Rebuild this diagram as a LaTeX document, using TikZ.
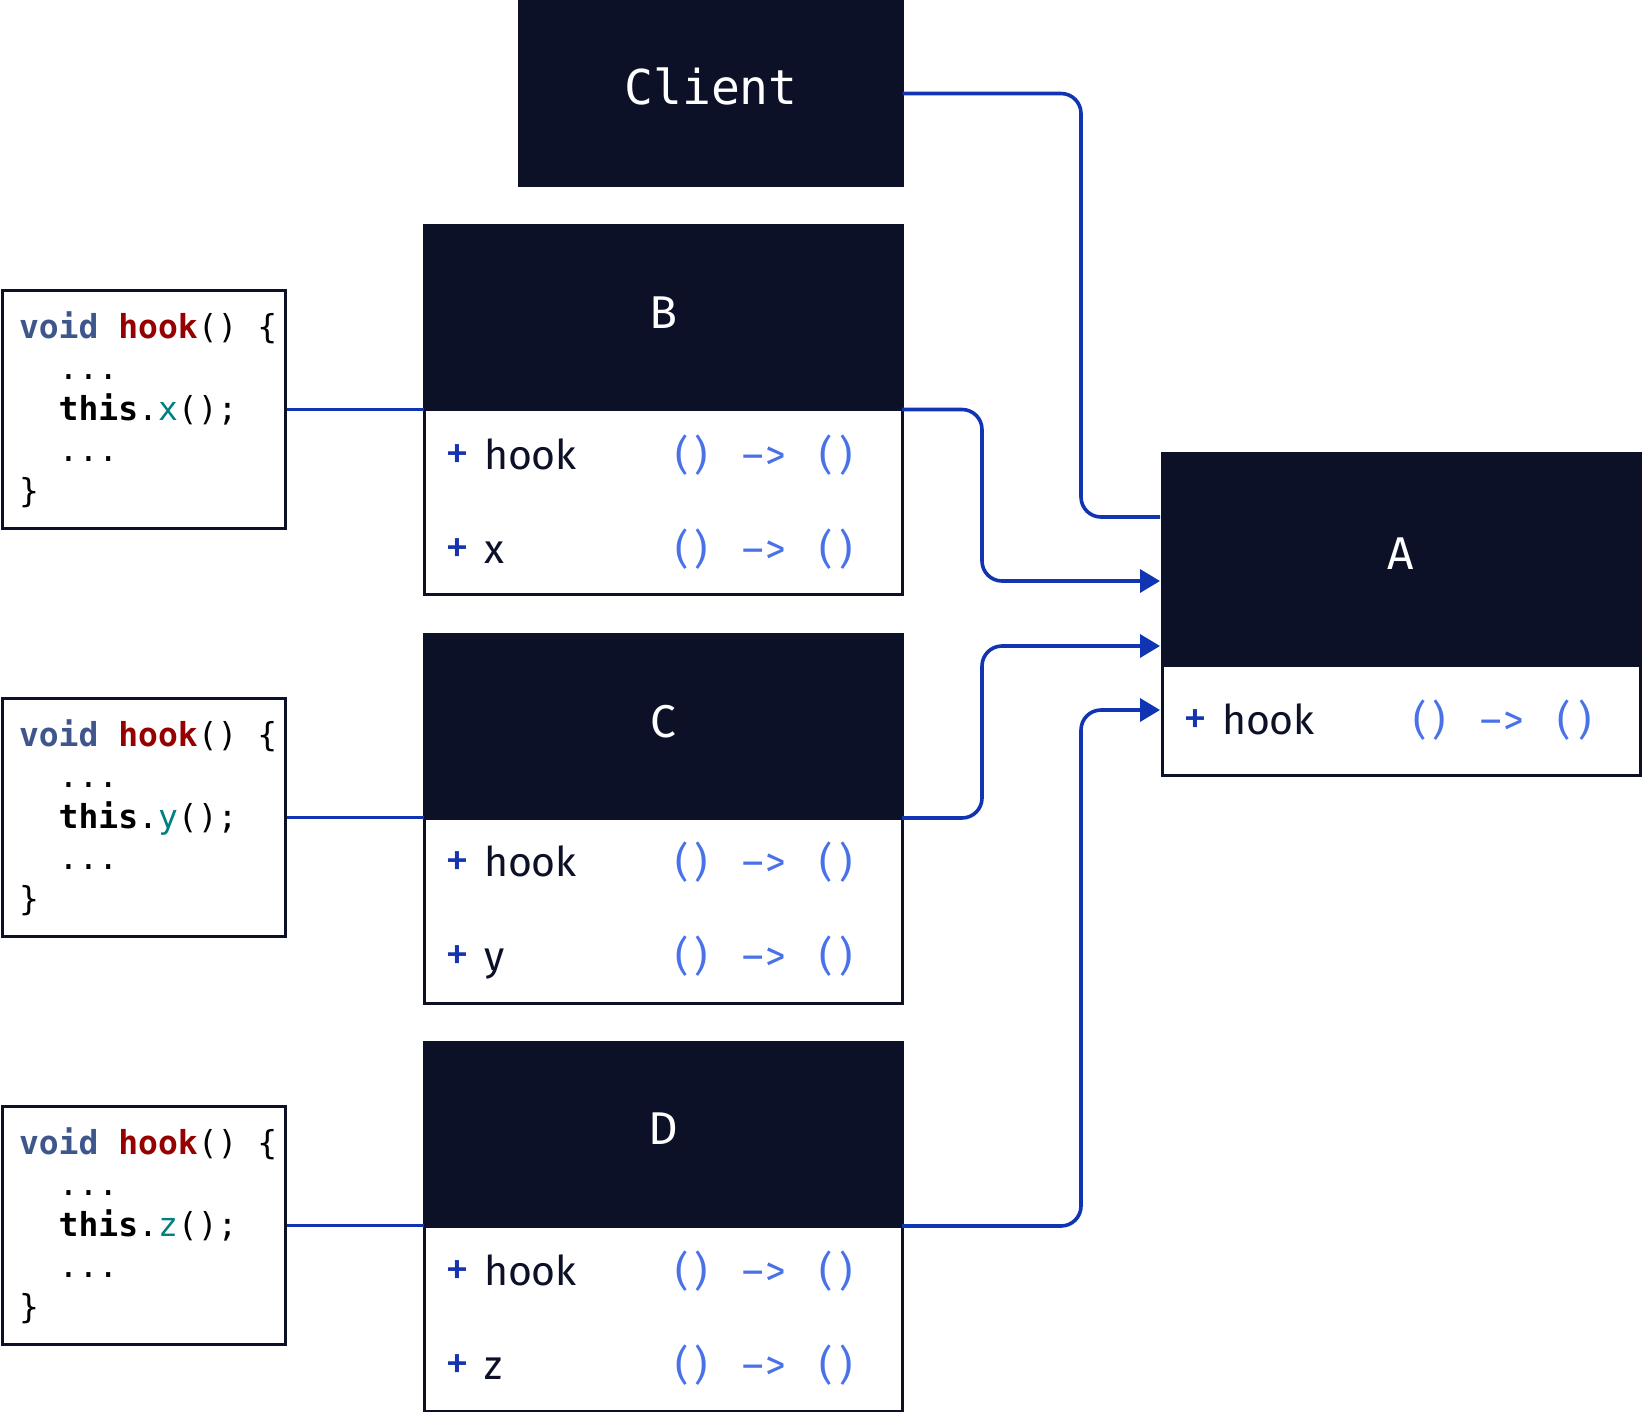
\documentclass[tikz,border=0pt]{standalone}
\usepackage{xcolor}
\usepackage{tikz}
\usepackage{fontspec}
\setmainfont{Fira Sans}
\setmonofont{DejaVu Sans Mono}
\usetikzlibrary{arrows.meta}
\usetikzlibrary{positioning}

\definecolor{navy}{RGB}{12,17,40}
\definecolor{linkblue}{RGB}{16,52,178}
\definecolor{plusblue}{RGB}{22,52,176}
\definecolor{sigblue}{RGB}{74,114,232}
\definecolor{voidblue}{RGB}{62,86,140}
\definecolor{hookred}{RGB}{150,0,0}
\definecolor{callteal}{RGB}{0,128,128}

% signature "( ) -> ( )" and one class member row
\newcommand{\sig}{\textcolor{sigblue}{\makebox[10pt][l]{(}\makebox[23.5pt][l]{)}\makebox[11.5pt][l]{\textendash}\makebox[27pt][l]{>}\makebox[10.5pt][l]{(})}}
\newcommand{\member}[1]{\makebox[19.5pt][l]{\textcolor{plusblue}{\fontsize{24}{47}\selectfont +}}\makebox[95.5pt][l]{#1}\sig}
% body of hook() calling one method
\newcommand{\hookcode}[1]{\textcolor{voidblue}{\textbf{void}}\phantom{x}\textcolor{hookred}{\textbf{hook}}()\phantom{x}\{\\
\phantom{xx}...\\
\phantom{xx}\textbf{this}.\textcolor{callteal}{#1}();\\
\phantom{xx}...\\
\}}

\begin{document}
\begin{tikzpicture}[
        x=0.5pt, y=-0.5pt,
        head/.style={fill=navy, draw=navy, line width=1.5pt, outer sep=0pt, text=white, inner sep=0pt, text depth=5pt, minimum width=239pt, font=\fontsize{23}{28}\selectfont},
        body/.style={fill=white, draw=navy, line width=1.5pt, outer sep=0pt, minimum width=239pt, text width=218pt, inner xsep=10.5pt, align=left, text=navy, font=\fontsize{20.5}{47}\selectfont},
        codebox/.style={draw=navy, line width=1.5pt, minimum width=141.5pt, minimum height=119pt, text width=124.5pt, inner xsep=8.5pt, align=left, font=\fontsize{16.5}{20.5}\selectfont\ttfamily},
        link/.style={draw=linkblue, line width=1.8pt, rounded corners=10pt},
        arrow/.style={link, -{Triangle[length=10pt,width=11.5pt]}}
    ]
        \useasboundingbox (0,0) rectangle (1642,1412);

        % client and base class
        \node[head, minimum width=191.5pt, minimum height=92pt, text depth=7.5pt, font=\fontsize{24}{28}\selectfont\ttfamily] (client) at (711,93.5) {Client};
        \node[head, minimum height=106pt, text depth=6pt] (Ahead) at (1401,559.5) {A};
        \node[body, minimum height=55pt, below=0pt of Ahead] (Abody) {\member{hook}};

        % subclasses
        \node[head, minimum height=92pt] (Bhead) at (663,317.5) {B};
        \node[body, minimum height=92.5pt, below=0pt of Bhead] (Bbody) {\member{hook}\\\member{x}};
        \node[head, minimum height=92pt] (Chead) at (663,726) {C};
        \node[body, minimum height=92.5pt, below=0pt of Chead] (Cbody) {\member{hook}\\\member{y}};
        \node[head, minimum height=92pt] (Dhead) at (663,1134) {D};
        \node[body, minimum height=92.5pt, below=0pt of Dhead] (Dbody) {\member{hook}\\\member{z}};

        % hook implementations
        \node[codebox] (hookB) at (143.5,409.5) {\hookcode{x}};
        \node[codebox] (hookC) at (143.5,817.5) {\hookcode{y}};
        \node[codebox] (hookD) at (143.5,1225.5) {\hookcode{z}};

        \draw[link] (hookB.east) -- (hookB.east -| Bbody.west);
        \draw[link] (hookC.east) -- (hookC.east -| Cbody.west);
        \draw[link] (hookD.east) -- (hookD.east -| Dbody.west);

        % entry points on A
        \coordinate (inClient) at (1160,517);
        \coordinate (inB) at (1160,581);
        \coordinate (inC) at (1160,646);
        \coordinate (inD) at (1160,710);
        \coordinate (laneL) at (982,0);
        \coordinate (laneR) at (1081,0);

        \draw[link] (client.east) -| (laneR |- inClient) -- (inClient);
        \draw[arrow] (Bbody.north east) -| (laneL |- inB) -- (inB);
        \draw[arrow] (Cbody.north east) -| (laneL |- inC) -- (inC);
        \draw[arrow] (Dbody.north east) -| (laneR |- inD) -- (inD);
    \end{tikzpicture}
\end{document}
